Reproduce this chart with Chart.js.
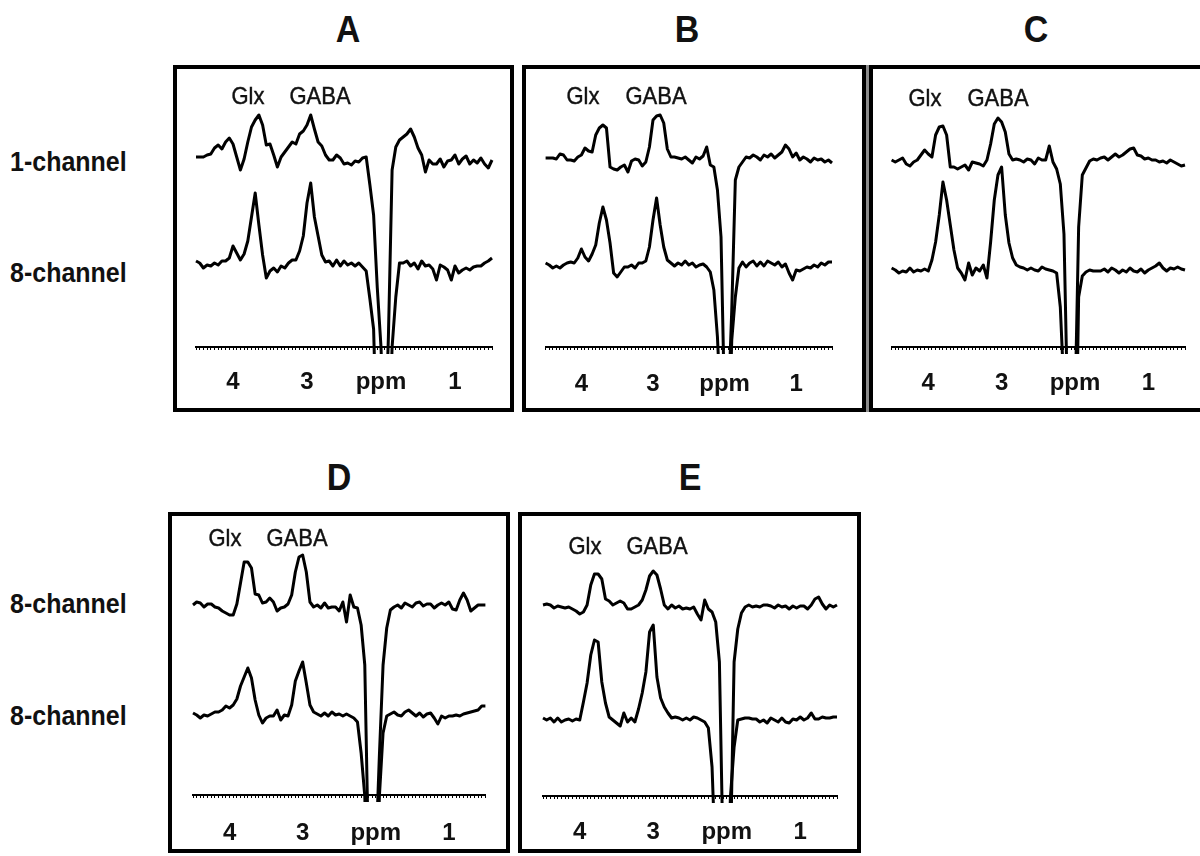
<!DOCTYPE html>
<html>
<head>
<meta charset="utf-8">
<script src="https://cdn.jsdelivr.net/npm/chart.js@4/dist/chart.umd.min.js"></script>
<style>
  html, body { margin: 0; padding: 0; background: #fff; }
  #fig { position: relative; width: 1200px; height: 856px; overflow: hidden; font-family: "Liberation Sans", Arial, sans-serif; color: #111; }
  .box { position: absolute; border: 4px solid #000; box-sizing: border-box; }
  .lbl { position: absolute; white-space: nowrap; }
  .title { font-size: 34px; font-weight: bold; transform: translate(-50%, -50%) scaleY(1.1); }
  .row { font-size: 25px; font-weight: bold; transform: translateY(-50%) scaleY(1.08); transform-origin: left center; }
  .peak { font-size: 22px; transform: translate(-50%, -50%) scaleY(1.08); -webkit-text-stroke: 0.4px #111; }
  canvas { position: absolute; }
</style>
</head>
<body>
<div id="fig"></div>
<script>
// chemical shift grid (ppm), shared by every trace
const ppm = [
  4.50, 4.45, 4.40, 4.35, 4.30, 4.25, 4.20, 4.15, 4.10, 4.05,
  4.00, 3.95, 3.90, 3.85, 3.80, 3.75, 3.70, 3.65, 3.60, 3.55,
  3.50, 3.45, 3.40, 3.35, 3.30, 3.25, 3.20, 3.15, 3.10, 3.05,
  3.00, 2.95, 2.90, 2.85, 2.80, 2.75, 2.70, 2.65, 2.60, 2.55,
  2.50, 2.45, 2.40, 2.35, 2.30, 2.25, 2.20, 2.15, 2.10, 2.05,
  2.00, 1.95, 1.90, 1.85, 1.80, 1.75, 1.70, 1.65, 1.60, 1.55,
  1.50, 1.45, 1.40, 1.35, 1.30, 1.25, 1.20, 1.15, 1.10, 1.05,
  1.00, 0.95, 0.90, 0.85, 0.80, 0.75, 0.70, 0.65, 0.60, 0.55,
  0.50
];

// signal (a.u., relative to each trace's own baseline)
const aTop = [
  0, 0, 0, 2, 3, 9, 12, 8, 15, 19,
  13, 0, -13, -2, 15, 30, 37, 42, 32, 12,
  13, 2, -10, 0, 5, 10, 15, 13, 23, 26,
  32, 42, 28, 15, 11, 2, -3, -3, 2, -1,
  -7, -6, -8, -4, -5, -1, 0, -28, -58, -131,
  -190, -300, -180, -13, 10, 17, 20, 23, 28, 20,
  9, 2, -15, -3, -7, -7, -2, -10, -4, -3,
  2, -7, -2, 1, -7, -3, -6, -1, -7, -11,
  -3
];
const aBottom = [
  2, 0, -5, -2, -3, 0, -2, 2, 2, 5,
  17, 10, 3, 9, 22, 46, 70, 38, 8, -15,
  -8, -5, -9, -3, -5, 0, 3, 3, 12, 27,
  60, 80, 46, 27, 8, 1, 2, -3, 3, -3,
  2, -2, 0, -3, 0, -4, -8, -36, -66, -200,
  -200, -200, -200, -84, -34, 0, 0, 2, -3, 0,
  -6, 2, -3, -2, -6, -17, -2, -4, -7, -17,
  -3, -10, -7, -5, -7, -4, -3, -3, 0, 2,
  5
];
const bTop = [
  2, 2, 2, 1, 6, 5, 0, 0, -1, 3,
  5, 12, 9, 8, 25, 32, 35, 32, -7, -9,
  -10, -7, -5, -12, -1, 1, 0, -6, -2, 13,
  40, 44, 45, 37, 11, 3, 3, 2, 1, 3,
  0, -3, 3, 1, 4, 13, -5, -7, -30, -77,
  -250, -250, -150, -20, -7, -2, 3, 2, 5, 3,
  0, 5, 3, 6, 2, 5, 8, 15, 11, 3,
  7, 0, 3, 1, -2, 2, 0, 1, -2, 0,
  -3
];
const bBottom = [
  2, 0, -3, -1, -3, 0, 2, 3, 2, 7,
  16, 8, 4, 11, 20, 42, 58, 45, 22, -8,
  -12, -7, -2, -2, 0, -3, 2, 2, 4, 18,
  45, 67, 40, 18, 5, 2, -1, 2, 0, 4,
  0, 2, -2, 0, 1, -2, -7, -25, -72, -150,
  -200, -200, -75, -32, -3, 3, -2, 2, 4, -1,
  3, -1, 4, 2, 0, 3, -2, 1, -8, -15,
  -5, -6, -4, -2, -3, 0, -2, 2, 0, 3,
  3
];
const cTop = [
  2, 0, 2, 4, -2, -4, 0, 2, 7, 12,
  8, 5, 27, 35, 36, 27, -5, -5, -7, -5,
  -3, -8, 0, -1, -2, -4, 2, 18, 38, 44,
  40, 30, 8, 2, 3, 2, 0, 3, 2, -2,
  4, 2, 2, 16, 0, -7, -22, -72, -250, -250,
  -250, -65, -13, -6, 1, 3, 2, 4, 5, 2,
  5, 8, 5, 7, 10, 13, 14, 7, 6, 3,
  4, 2, 2, 0, 1, -1, 2, 0, -2, -4,
  -3
];
const cBottom = [
  2, 0, -3, -1, -2, 2, -2, 0, -1, 1,
  -1, 10, 28, 55, 88, 70, 45, 20, 2, -3,
  -10, 7, -5, 2, -1, 5, -8, 28, 70, 95,
  103, 55, 27, 12, 5, 3, 2, 0, 2, 0,
  -1, 3, 1, 0, -1, -3, -37, -120, -250, -250,
  -250, -27, -6, -2, 0, -1, -1, -1, 1, -2,
  2, 0, -3, 0, -2, 2, -1, -2, 1, -3,
  0, 2, 4, 7, 2, -1, 2, 1, 3, 1,
  0
];
const dTop = [
  0, 3, 2, -2, 1, 1, -2, -3, -6, -8,
  -10, -10, 1, 22, 43, 43, 37, 11, 10, 2,
  3, 7, 3, -6, -3, -2, 1, 10, 33, 48,
  50, 33, 3, -2, 0, -3, 2, -3, -2, -2,
  -6, 3, -17, 10, -2, -3, -20, -60, -250, -250,
  -250, -150, -60, -23, -5, -2, 0, -3, 2, 0,
  -2, 2, 3, -1, 1, 1, -3, 0, 2, 0,
  3, -4, -5, 5, 12, 5, -6, -3, 0, 0,
  0
];
const dBottom = [
  0, -2, -5, -2, -3, -1, 1, 1, 3, 7,
  5, 8, 14, 27, 36, 45, 35, 13, -2, -10,
  -5, -3, -3, 3, -7, -2, -3, 8, 32, 42,
  51, 30, 8, 1, -1, -3, 0, -3, 1, -2,
  -1, -3, -1, -3, -5, -9, -40, -83, -200, -200,
  -200, -83, -20, -3, -1, 1, -2, -3, 1, 3,
  0, -3, 0, -4, -1, 0, -5, -11, -3, -5,
  -3, -3, -2, -3, -1, 0, 1, 2, 3, 7,
  7
];
const eTop = [
  2, 3, 2, -1, 1, 0, -1, 0, -2, -4,
  -7, -5, 2, 22, 33, 33, 28, 8, 6, 2,
  4, 6, 4, -2, -2, 0, 2, 7, 17, 31,
  36, 32, 18, 2, -2, 2, -1, 1, -2, -1,
  -2, 0, -7, -13, 7, -2, -5, -15, -55, -250,
  -250, -250, -55, -22, -6, 0, 2, 0, 1, 0,
  2, 2, 1, -1, 2, 0, 1, -2, 1, -1,
  1, 1, -2, 2, 8, 10, 3, -2, 2, 0,
  2
];
const eBottom = [
  2, 0, 2, -2, 2, -2, 0, 1, -1, 1,
  0, 18, 37, 65, 80, 78, 38, 17, 3, 0,
  -3, -6, 7, -2, 2, -2, 11, 27, 48, 88,
  95, 43, 22, 13, 7, 2, 3, 2, 0, 2,
  0, 3, 2, 0, -2, -8, -47, -150, -200, -200,
  -200, -77, -27, 0, 1, 2, 2, 1, 1, -2,
  0, -3, 2, 0, -2, 2, -2, -3, 1, 0,
  3, 0, 2, 7, 1, 1, 3, 2, 2, 3,
  3
];

// axis labels
const tickValues = [4, 3, 2, 1];
const tickText = ['4', '3', 'ppm', '1'];
const peakNames = ['Glx', 'GABA'];
const panelTitles = ['A', 'B', 'C', 'D', 'E'];
const rowNames = ['1-channel', '8-channel', '8-channel', '8-channel'];

// layout (page pixels)
const panels = [
  { top: aTop, bottom: aBottom, box: [173, 65, 514, 412], x45: 196, x05: 492, axisY: 347, labelY: 382, topBase: 157, botBase: 263, title: [348, 29], peaks: [[248, 96], [320, 96]] },
  { top: bTop, bottom: bBottom, box: [522, 65, 866, 412], x45: 538, x05: 832, axisY: 347, labelY: 384, topBase: 160, botBase: 265, title: [687, 29], peaks: [[583, 96], [656, 96]], shadow: true },
  { top: cTop, bottom: cBottom, box: [869, 65, 1212, 412], x45: 891, x05: 1185, axisY: 347, labelY: 383, topBase: 162, botBase: 270, title: [1036, 29], peaks: [[925, 98], [998, 98]] },
  { top: dTop, bottom: dBottom, box: [168, 512, 510, 853], x45: 193, x05: 489, axisY: 795, labelY: 833, topBase: 605, botBase: 713, title: [339, 477], peaks: [[225, 538], [297, 538]] },
  { top: eTop, bottom: eBottom, box: [518, 512, 861, 853], x45: 543, x05: 837, axisY: 796, labelY: 832, topBase: 607, botBase: 720, title: [690, 477], peaks: [[585, 546], [657, 546]] }
];
const rowY = [162, 273, 604, 716];

const fig = document.getElementById('fig');
const FONT = '"Liberation Sans", Arial, sans-serif';

function addLabel(text, cls, x, y) {
  const d = document.createElement('div');
  d.className = 'lbl ' + cls;
  d.textContent = text;
  d.style.left = x + 'px';
  d.style.top = y + 'px';
  fig.appendChild(d);
}

function tickLabel(v) {
  const i = tickValues.findIndex(t => Math.abs(t - v) < 1e-6);
  return i >= 0 ? tickText[i] : '';
}

function trace(values, offset) {
  return ppm.map((x, i) => ({ x: x, y: values[i] + offset }));
}

function drawPanel(p, idx) {
  const [l, t, r, b] = p.box;
  const box = document.createElement('div');
  box.className = 'box';
  box.style.left = l + 'px';
  box.style.top = t + 'px';
  box.style.width = (r - l) + 'px';
  box.style.height = (b - t) + 'px';
  if (p.shadow) box.style.boxShadow = '3px 0 0 #8c8c8c';
  fig.appendChild(box);

  const cx = l + 4, cy = t + 4, cw = r - l - 8, ch = b - t - 8;
  const canvas = document.createElement('canvas');
  canvas.width = cw;
  canvas.height = ch;
  canvas.style.left = cx + 'px';
  canvas.style.top = cy + 'px';
  fig.appendChild(canvas);

  const lineStyle = {
    borderColor: '#000',
    borderWidth: 3,
    borderJoinStyle: 'round',
    pointRadius: 0,
    tension: 0,
    fill: false,
    clip: { left: 2, top: 2, right: 2, bottom: 7 }
  };

  new Chart(canvas.getContext('2d'), {
    type: 'line',
    data: {
      datasets: [
        Object.assign({ label: 'upper', data: trace(p.top, p.axisY - p.topBase) }, lineStyle),
        Object.assign({ label: 'lower', data: trace(p.bottom, p.axisY - p.botBase) }, lineStyle)
      ]
    },
    options: {
      responsive: false,
      animation: false,
      devicePixelRatio: 1,
      events: [],
      layout: {
        autoPadding: false,
        padding: { left: p.x45 - cx, right: cx + cw - p.x05, top: 0, bottom: 0 }
      },
      plugins: { legend: { display: false }, tooltip: { enabled: false } },
      scales: {
        x: {
          type: 'linear',
          min: 0.5,
          max: 4.5,
          reverse: true,
          afterFit: s => { s.height = cy + ch - p.axisY; },
          border: { display: true, color: '#000', width: 2 },
          grid: { drawOnChartArea: false, drawTicks: true, tickLength: 3, tickColor: '#000', tickWidth: 1 },
          ticks: {
            stepSize: 0.05,
            maxTicksLimit: 200,
            autoSkip: false,
            maxRotation: 0,
            padding: p.labelY - p.axisY - 3 - 14.4,
            color: '#111',
            font: { family: FONT, size: 24, weight: 'bold' },
            callback: v => tickLabel(v)
          }
        },
        y: { display: false, min: 0, max: p.axisY - cy }
      }
    }
  });

  addLabel(panelTitles[idx], 'title', p.title[0], p.title[1]);
  p.peaks.forEach((pk, k) => addLabel(peakNames[k], 'peak', pk[0], pk[1]));
}

panels.forEach(drawPanel);
rowNames.forEach((name, i) => addLabel(name, 'row', 10, rowY[i]));
</script>
</body>
</html>
